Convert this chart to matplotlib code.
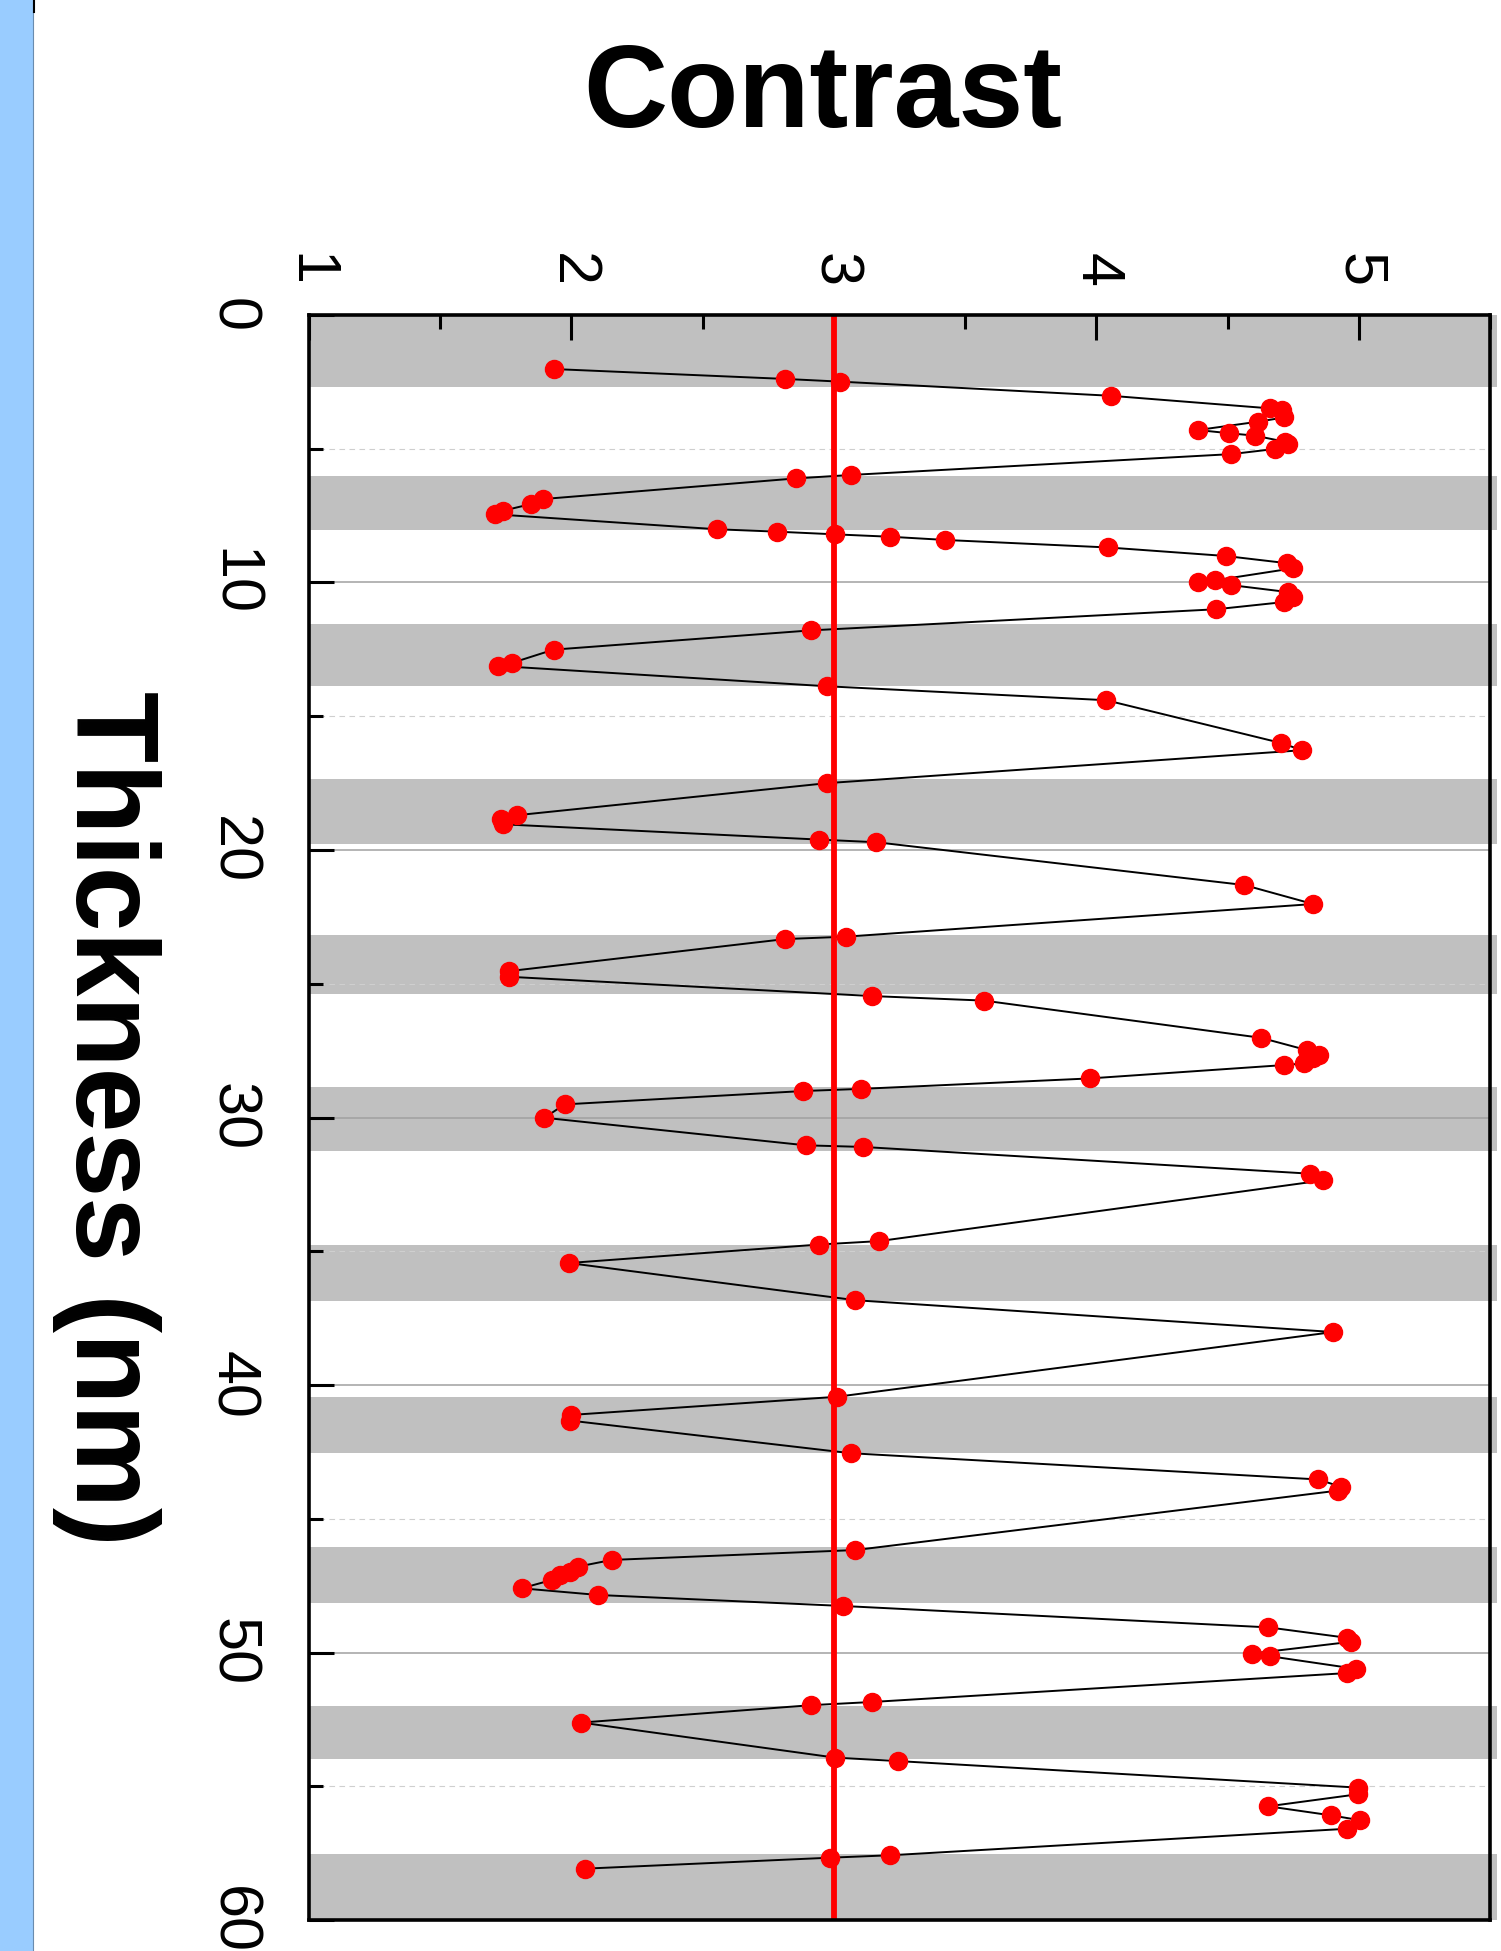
import matplotlib
matplotlib.use("Agg")
import matplotlib.pyplot as plt
from matplotlib.patches import Rectangle
from matplotlib.lines import Line2D
from matplotlib.ticker import MultipleLocator

plt.rcParams['font.family'] = ['Liberation Sans', 'DejaVu Sans']

# ------------------------------------------------------------
# dados (espessura em nm, contraste)
# ------------------------------------------------------------
espessura = [2.02, 2.39, 2.49, 3.02, 3.49, 3.55, 3.83, 3.99, 4.30, 4.42,
             4.51, 4.74, 4.82, 5.01, 5.20, 5.98, 6.11, 6.88, 7.07, 7.32,
             7.45, 8.01, 8.10, 8.20, 8.29, 8.41, 8.69, 9.01, 9.28, 9.47,
             9.92, 9.98, 10.10, 10.36, 10.54, 10.73, 11.00, 11.79, 12.51, 13.00,
             13.12, 13.88, 14.40, 16.00, 16.27, 17.50, 18.70, 18.85, 19.04, 19.61,
             19.71, 21.31, 22.02, 23.24, 23.33, 24.53, 24.74, 25.46, 25.63, 27.02,
             27.48, 27.67, 27.79, 27.98, 28.04, 28.54, 28.93, 29.01, 29.51, 30.01,
             31.04, 31.10, 32.10, 32.35, 34.62, 34.75, 35.44, 36.83, 38.02, 40.44,
             41.12, 41.33, 42.55, 43.53, 43.80, 43.95, 46.17, 46.54, 46.79, 46.98,
             47.10, 47.29, 47.60, 47.85, 48.26, 49.06, 49.45, 49.60, 50.04, 50.14,
             50.61, 50.77, 51.85, 51.97, 52.62, 53.93, 54.06, 55.05, 55.30, 55.75,
             56.09, 56.27, 56.59, 57.58, 57.67, 58.08]

contraste = [1.932, 2.814, 3.022, 4.055, 4.662, 4.709, 4.716, 4.615, 4.387, 4.506,
             4.604, 4.720, 4.732, 4.679, 4.515, 3.064, 2.854, 1.892, 1.845, 1.738,
             1.710, 2.555, 2.784, 3.005, 3.215, 3.425, 4.044, 4.494, 4.728, 4.749,
             4.452, 4.387, 4.515, 4.732, 4.749, 4.716, 4.457, 2.912, 1.932, 1.775,
             1.722, 2.975, 4.037, 4.704, 4.784, 2.975, 1.792, 1.733, 1.740, 2.942,
             3.162, 4.564, 4.826, 3.045, 2.814, 1.761, 1.763, 3.145, 3.572, 4.627,
             4.802, 4.849, 4.826, 4.791, 4.714, 3.974, 3.103, 2.884, 1.974, 1.897,
             2.893, 3.110, 4.814, 4.865, 3.173, 2.942, 1.990, 3.082, 4.903, 3.012,
             1.997, 1.995, 3.064, 4.844, 4.931, 4.919, 3.082, 2.153, 2.025, 1.995,
             1.955, 1.925, 1.810, 2.102, 3.033, 4.655, 4.955, 4.970, 4.592, 4.662,
             4.989, 4.954, 3.145, 2.912, 2.037, 3.005, 3.246, 4.996, 4.996, 4.655,
             4.896, 5.005, 4.954, 3.215, 2.987, 2.053]

# faixas cinzas (início, fim) em nm
faixas = [(0.0, 2.68), (6.02, 8.04), (11.56, 13.88), (17.35, 19.77),
          (23.18, 25.38), (28.85, 31.26), (34.75, 36.87), (40.44, 42.53),
          (46.04, 48.16), (52.01, 53.97), (57.54, 60.0)]

contraste_ref = 3.0

W, H = 1501, 1951
fig = plt.figure(figsize=(W / 100, H / 100), dpi=100)

# faixa azul na lateral esquerda
fig.patches.append(Rectangle((0, 0), 33 / W, 1, transform=fig.transFigure,
                             facecolor='#99ccff', edgecolor='none'))
fig.add_artist(Line2D([33 / W, 33 / W], [0, 1], transform=fig.transFigure,
                      color='#6a8cae', lw=0.8))
fig.add_artist(Line2D([34 / W, 34 / W], [1 - 12 / H, 1], transform=fig.transFigure,
                      color='black', lw=1.5))

ax = fig.add_axes([309 / W, 1 - 1920 / H, (1490 - 309) / W, (1920 - 315) / H])

for a, b in faixas:
    ax.axhspan(a, b, xmin=0, xmax=1.006, color='#c0c0c0', lw=0, zorder=0, clip_on=False)

ax.set_xlim(1, 5.5)
ax.set_ylim(60, 0)

ax.xaxis.set_major_locator(MultipleLocator(1))
ax.xaxis.set_minor_locator(MultipleLocator(0.5))
ax.yaxis.set_major_locator(MultipleLocator(10))
ax.yaxis.set_minor_locator(MultipleLocator(5))

ax.grid(True, axis='y', which='major', color='#a0a0a0', lw=1.1, zorder=1)
ax.grid(True, axis='y', which='minor', color='#cfcfcf', lw=0.8, ls=(0, (5, 4)), zorder=1)
ax.set_axisbelow(True)

ax.xaxis.tick_top()
ax.tick_params(axis='x', which='both', direction='in', top=True, bottom=False,
               labelsize=44, pad=20, width=2.2)
ax.tick_params(axis='y', which='both', direction='in', left=True, right=False,
               labelsize=44, pad=35, width=2.2)
ax.tick_params(which='major', length=18)
ax.tick_params(which='minor', length=10)

for lab in ax.get_xticklabels():
    lab.set_rotation(270)
    lab.set_ha('center')
    lab.set_va('bottom')
for lab in ax.get_yticklabels():
    lab.set_rotation(270)
    lab.set_ha('right')
    lab.set_va('center')

for s in ax.spines.values():
    s.set_linewidth(2.6)
    s.set_zorder(6)

ax.plot(contraste, espessura, color='black', lw=1.4, zorder=2)
ax.axvline(contraste_ref, color='#ff0000', lw=4.2, zorder=3)
ax.plot(contraste, espessura, ls='none', marker='o', ms=13,
        mfc='#ff0000', mec='#ff0000', zorder=4)

fig.text(823 / W, 1 - 96 / H, 'Contrast', fontsize=84, weight='bold',
         ha='center', va='center')
fig.text(106 / W, 1 - 1118 / H, 'Thickness (nm)', fontsize=84, weight='bold',
         rotation=270, ha='center', va='center')

fig.savefig('out.png', dpi=100)
